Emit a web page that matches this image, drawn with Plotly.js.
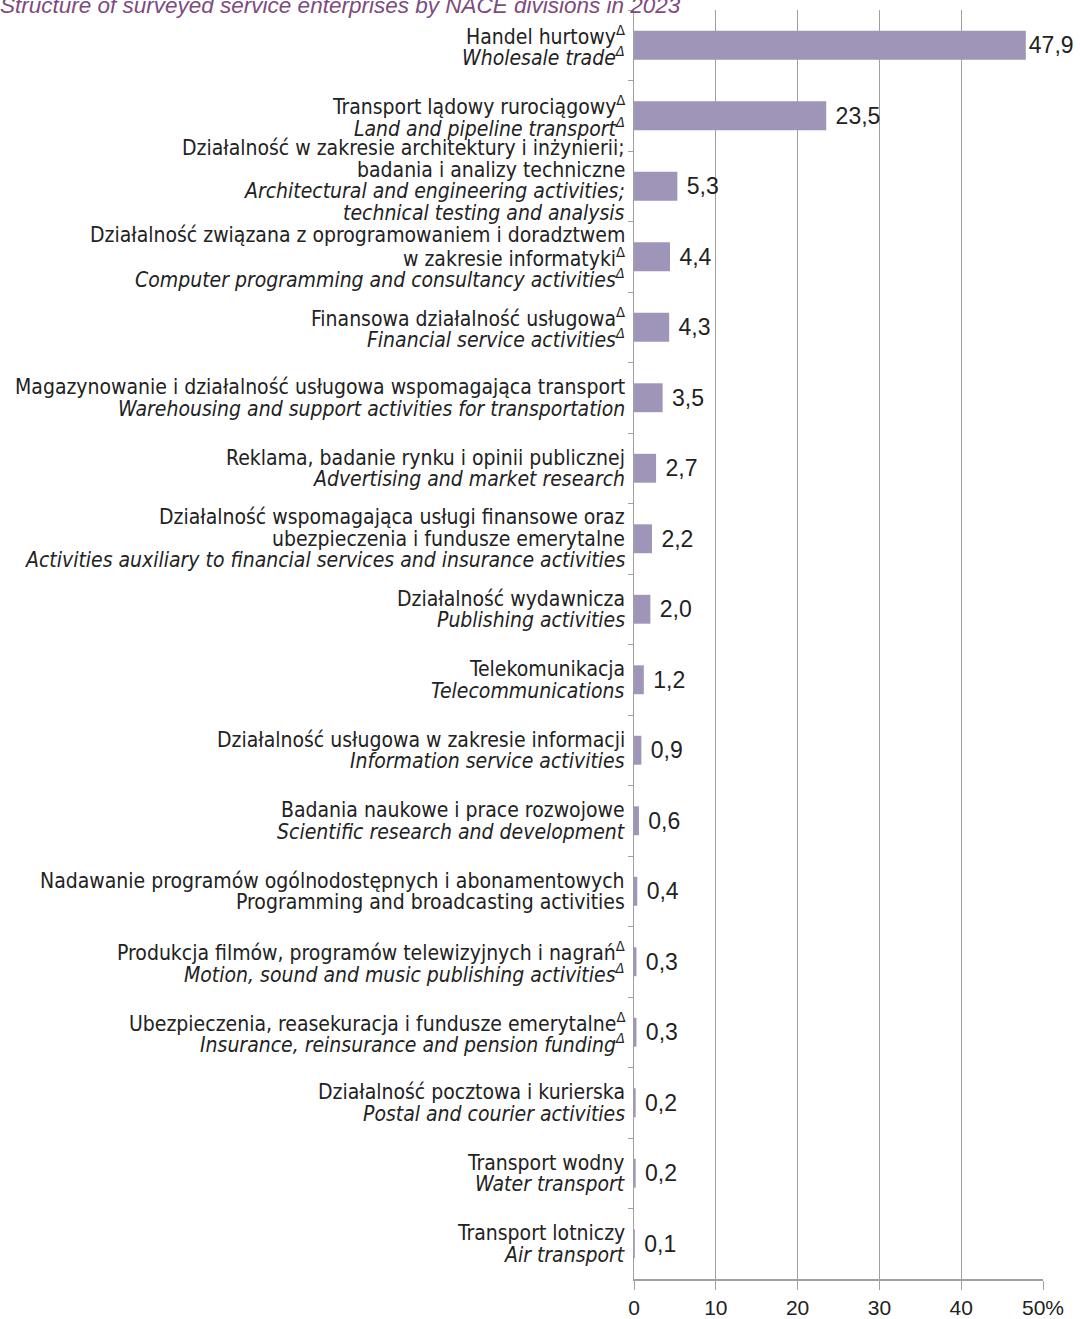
<!DOCTYPE html>
<html><head><meta charset="utf-8">
<script src="https://cdn.plot.ly/plotly-3.0.1.min.js"></script>
<style>html,body{margin:0;padding:0;background:#fff}#chart{width:1080px;height:1319px}</style>
</head><body><div id="chart"></div>
<script>
const chartTitle = "Structure of surveyed service enterprises by NACE divisions in 2023";
const categories = [
  "Handel hurtowy<sup>Δ</sup><br><i>Wholesale trade<sup>Δ</sup></i>",
  "Transport lądowy rurociągowy<sup>Δ</sup><br><i>Land and pipeline transport<sup>Δ</sup></i>",
  "Działalność w zakresie architektury i inżynierii;<br>badania i analizy techniczne<br><i>Architectural and engineering activities;</i><br><i>technical testing and analysis</i>",
  "Działalność związana z oprogramowaniem i doradztwem<br>w zakresie informatyki<sup>Δ</sup><br><i>Computer programming and consultancy activities<sup>Δ</sup></i>",
  "Finansowa działalność usługowa<sup>Δ</sup><br><i>Financial service activities<sup>Δ</sup></i>",
  "Magazynowanie i działalność usługowa wspomagająca transport<br><i>Warehousing and support activities for transportation</i>",
  "Reklama, badanie rynku i opinii publicznej<br><i>Advertising and market research</i>",
  "Działalność wspomagająca usługi finansowe oraz<br>ubezpieczenia i fundusze emerytalne<br><i>Activities auxiliary to financial services and insurance activities</i>",
  "Działalność wydawnicza<br><i>Publishing activities</i>",
  "Telekomunikacja<br><i>Telecommunications</i>",
  "Działalność usługowa w zakresie informacji<br><i>Information service activities</i>",
  "Badania naukowe i prace rozwojowe<br><i>Scientific research and development</i>",
  "Nadawanie programów ogólnodostępnych i abonamentowych<br>Programming and broadcasting activities",
  "Produkcja filmów, programów telewizyjnych i nagrań<sup>Δ</sup><br><i>Motion, sound and music publishing activities<sup>Δ</sup></i>",
  "Ubezpieczenia, reasekuracja i fundusze emerytalne<sup>Δ</sup><br><i>Insurance, reinsurance and pension funding<sup>Δ</sup></i>",
  "Działalność pocztowa i kurierska<br><i>Postal and courier activities</i>",
  "Transport wodny<br><i>Water transport</i>",
  "Transport lotniczy<br><i>Air transport</i>"
];
const values = [47.9, 23.5, 5.3, 4.4, 4.3, 3.5, 2.7, 2.2, 2.0, 1.2, 0.9, 0.6, 0.4, 0.3, 0.3, 0.2, 0.2, 0.1];
const xTickVals = [0, 10, 20, 30, 40, 50];
const xTickText = ["0", "10", "20", "30", "40", "50%"];

const LABEL_FONT = 'DejaVu Sans Condensed, Liberation Sans Narrow, sans-serif';
const LINE_H = 21.5;

const valueText = values.map(v => (v < 40 ? ' ' : '') + v.toFixed(1).replace('.', ','));

const trace = {
  type: 'bar', orientation: 'h',
  x: values, y: categories,
  marker: {color: '#9e95b8'},
  text: valueText, textposition: 'outside', cliponaxis: false,
  textfont: {family: 'Liberation Sans, Arial, sans-serif', size: 23, color: '#222'},
  hoverinfo: 'none'
};

// Category labels drawn line by line so the leading can be tight like the reference
const annotations = [];
categories.forEach((cat) => {
  const lines = cat.split('<br>');
  const n = lines.length;
  lines.forEach((ln, j) => {
    annotations.push({
      xref: 'paper', x: 0, xanchor: 'right', xshift: -7,
      yref: 'y', y: cat, yanchor: 'middle',
      yshift: ((n - 1) / 2 - j) * LINE_H + (n === 4 ? 6 : 0),
      text: ln, showarrow: false,
      font: {family: LABEL_FONT, size: 21, color: '#222'}
    });
  });
});

const layout = {
  width: 1080, height: 1319,
  margin: {l: 634, r: 37, t: 10, b: 40},
  paper_bgcolor: '#fff', plot_bgcolor: '#fff',
  showlegend: false,
  bargap: 0.59,
  title: {text: '<i>' + chartTitle + '</i>', x: 0, xanchor: 'left', xref: 'container', y: 1.009, yref: 'container', yanchor: 'middle',
          font: {family: 'Liberation Sans, Arial, sans-serif', size: 22.5, color: '#7d4b80'}},
  font: {family: LABEL_FONT, color: '#222'},
  annotations: annotations,
  xaxis: {
    range: [0, 50], tickvals: xTickVals, ticktext: xTickText,
    showgrid: true, gridcolor: '#a0a0a0', gridwidth: 1,
    zeroline: false, showline: true, linecolor: '#a0a0a0', linewidth: 1.5,
    ticks: 'outside', ticklen: 9, tickcolor: '#a0a0a0',
    tickfont: {family: 'Liberation Sans, Arial, sans-serif', size: 21, color: '#222'},
    fixedrange: true
  },
  yaxis: {
    autorange: 'reversed', type: 'category',
    showline: true, linecolor: '#a0a0a0', linewidth: 1.5,
    ticks: 'outside', tickson: 'boundaries', ticklen: 5, tickcolor: '#a0a0a0',
    showgrid: false, showticklabels: false,
    fixedrange: true
  }
};

Plotly.newPlot('chart', [trace], layout, {displayModeBar: false, staticPlot: true});
</script>
</body></html>
